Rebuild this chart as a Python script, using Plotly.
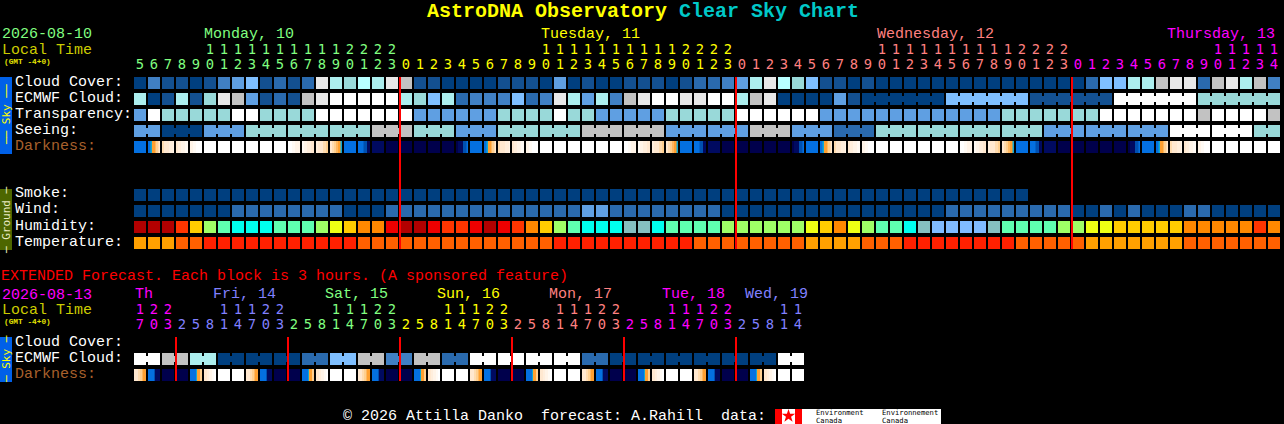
import plotly.graph_objects as go

# ---------- data ----------
hours_main = [5,6,7,8,9,10,11,12,13,14,15,16,17,18,19,20,21,22,23,
              0,1,2,3,4,5,6,7,8,9,10,11,12,13,14,15,16,17,18,19,20,21,22,23,
              0,1,2,3,4,5,6,7,8,9,10,11,12,13,14,15,16,17,18,19,20,21,22,23,
              0,1,2,3,4,5,6,7,8,9,10,11,12,13,14]
hours_ext = [17,20,23,
             2,5,8,11,14,17,20,23, 2,5,8,11,14,17,20,23, 2,5,8,11,14,17,20,23,
             2,5,8,11,14,17,20,23, 2,5,8,11,14,17,20,23, 2,5,8,11,14]
midnights_main = [19, 43, 67]
midnights_ext = [3, 11, 19, 27, 35, 43]

cloud_cover = ("0311013451" "212a7687a9" "1100001110" "4010011101" "22347a8651"
               "1010000000" "0000000025" "5779aa29a7" "93")
ecmwf_cloud = ("701716a941" "219abbbbb7" "6572333523" "a74739abba" "abb79a0000"
               "4100000055" "5555111111" "bbbbbb6666" "66")
ecmwf_merged = [(52, 57), (58, 63), (64, 69), (70, 75), (76, 81)]
transparency = ("4b66666bb6" "666bbbbbbb" "4444446666" "b664444466" "666bbbbbb4"
                "4444444444" "446666666b" "bbbbbb9bbb" "b9")
seeing_groups = [(0,1,"4"),(2,4,"0"),(5,7,"4"),(8,10,"6"),(11,13,"6"),(14,16,"6"),(17,19,"9"),
                 (20,22,"6"),(23,25,"4"),(26,28,"6"),(29,31,"6"),(32,34,"9"),(35,37,"9"),
                 (38,40,"4"),(41,43,"4"),(44,46,"9"),(47,49,"4"),(50,52,"2"),(53,55,"6"),
                 (56,58,"6"),(59,61,"6"),(62,64,"6"),(65,67,"4"),(68,70,"4"),(71,73,"4"),
                 (74,76,"b"),(77,79,"b"),(80,81,"6")]
smoke = ("0000000000" "0000000000" "0000000000" "0000000000" "0000000000" "0000000000" "0000")
wind = ("0000000222" "2222200022" "2222222222" "2244222222" "2200000000"
        "0000000022" "2222222002" "0200022000" "00")
humidity = ("rrrtvxyzzz" "yyyxwvuusr" "rsttsrstuv" "xyzzzggzyy" "yyxxxxxxwv"
            "uwxyyzglll" "lgyyyyxxww" "vvvvvuuuuu" "tu")
temperature = ("AAAOORRRRR" "RRRRRROOOO" "OOOOOOOOOO" "RRRRRRRRRR" "OOOOOOOOAA"
               "AAOOORRRRR" "RRROOOOOAA" "AAAAAOOOOO" "OO")
ext_ecmwf_groups = ["b","9","7","0","0","0","2","5","9","3","9","2",
                    "b","b","b","b","2","0","0","0","0","0","0","b"]

darkness_blocks = [
 "BL","DW","P1","P2","P3","WH","WH","WH","WH","WH","WH","E1","E2","E3","DK","BL","FD","N1","NV","NV","NV","NV","NV","UP",
 "BL","DW","P1","P2","P3","WH","WH","WH","WH","WH","WH","E1","E2","E3","DK","BL","FD","N1","NV","NV","NV","NV","NV","UP",
 "BL","DW","P1","P2","P3","WH","WH","WH","WH","WH","WH","E1","E2","E3","DK","BL","FD","N1","NV","NV","NV","NV","NV","UP",
 "BL","DW","P1","P2","P3","WH","WH","WH","WH","WH"]
ext_darkness_blocks = [
 "XD","BN","NV","NV","BO","PW","WH","WH", "XD","BN","NV","NV","BO","PW","WH","WH",
 "XD","BN","NV","NV","BO","PW","WH","WH", "XD","BN","NV","NV","BO","PW","WH","WH",
 "XD","BN","NV","NV","BO","PW","WH","WH", "XD","BN","NV","NV","BO","PW","WH","WH"]
darkness_ramps = {
 "BL":[3,3,3,3,3,3,3,3,3,3,3,3],
 "DW":[3,3,3.5,4,5,5,5,5.5,6,6,6.5,7],
 "P1":[6.5,6.5,7,7,7,7,7,7.5,7.5,7.5,7.5,8],
 "P2":[7,7,7.5,7.5,7.5,8,8,8,8,8.5,8.5,8.5],
 "P3":[8,8,8,8.5,8.5,8.5,9,9,9,9,9,9],
 "WH":[9,9,9,9,9,9,9,9,9,9,9,9],
 "E1":[9,9,9,9,8.5,8.5,8.5,8,8,8,8,8],
 "E2":[8.5,8.5,8,8,8,7.5,7.5,7.5,7.5,7,7,7],
 "E3":[7.5,7.5,7,7,7,7,7,6.5,6.5,6.5,6,6],
 "DK":[7,7,6.5,6.5,6,6,5.5,5.5,5,5,4.5,4],
 "FD":[3,3,3,3,3,2.5,2,2,2,1,1,1],
 "N1":[1,1,1,1,1,1,1,1,1,1,1,1],
 "NV":[0,0,0,0,0,0,0,0,0,0,0,0],
 "UP":[0,0,1,1,1,1,1,2,2,2,2.5,3],
 "XD":[7,7,7,7,6.5,6.5,6,6,5.5,5,5,5],
 "BN":[3,3,3,3,3,3,2,1,1,1,1,1],
 "BO":[3,3,3,3,3,3,4,5,5,5,6,6],
 "PW":[7,7,7,7.5,7.5,8,8,8,8.5,8.5,9,9],
}

day_colors_main = [("#80ff80",19),("#ffff00",24),("#ff8080",24),("#ff00ff",15)]
day_colors_ext = [("#ff00ff",3),("#8080ff",8),("#80ff80",8),("#ffff00",8),("#ff8080",8),("#ff00ff",8),("#8080ff",5)]

day_titles_main = [("Monday, 10",204,"#80ff80"),("Tuesday, 11",541,"#ffff00"),
                   ("Wednesday, 12",877,"#ff8080"),("Thursday, 13",1167,"#ff00ff")]
day_titles_ext = [("Th",135,"#ff00ff"),("Fri, 14",213,"#8080ff"),("Sat, 15",325,"#80ff80"),
                  ("Sun, 16",437,"#ffff00"),("Mon, 17",549,"#ff8080"),("Tue, 18",662,"#ff00ff"),
                  ("Wed, 19",745,"#8080ff")]
row_labels = [("Cloud Cover:",82,"#ffffff"),("ECMWF Cloud:",98,"#ffffff"),("Transparency:",114,"#ffffff"),
              ("Seeing:",130,"#ffffff"),("Darkness:",146,"#a8602c"),
              ("Smoke:",194,"#ffffff"),("Wind:",210,"#ffffff"),("Humidity:",226,"#ffffff"),
              ("Temperature:",242,"#ffffff"),
              ("Cloud Cover:",342,"#ffffff"),("ECMWF Cloud:",358,"#ffffff"),("Darkness:",374,"#a8602c")]

palette = {"0":"#003f7f","1":"#135091","2":"#2a6aae","3":"#4080c4","4":"#5f9fe2","5":"#7fbfff",
           "6":"#99d9d9","7":"#aceeee","8":"#b8ffff","9":"#c2c2c2","a":"#e8e8e8","b":"#ffffff",
           "r":"#b20000","s":"#ee0000","t":"#ff3500","u":"#ff8800","v":"#ffcc00","w":"#eeff14",
           "x":"#9fff66","y":"#5fffb0","z":"#00ffee","g":"#85c0c0","l":"#80bbff",
           "A":"#ffa000","O":"#ff6000","R":"#ff2000"}
darkness_colors = ["#00004c","#000a60","#0050b0","#0470e0","#10a8d0","#ffa030","#ffd090","#ffe8d0","#fff4e8","#ffffff"]

FONT = "Liberation Mono"
DIGIT_FONT = "DejaVu Sans Mono"
N = 82

# ---------- helpers ----------
def X(px):
    return (px - 140) / 14

codes = list(palette)
scale = [[k / (len(codes) - 1), palette[c]] for k, c in enumerate(codes)]
dscale = [[k / 9, c] for k, c in enumerate(darkness_colors)]

def row_z(s):
    return [codes.index(c) for c in s] + [None] * (N - len(s))

def expand_colors(spec):
    out = []
    for c, n in spec:
        out += [c] * n
    return out

seeing = "".join(lv * (b - a + 1) for a, b, lv in seeing_groups)
ext_ecmwf = "".join(lv * 2 for lv in ext_ecmwf_groups)

fig = go.Figure()

# blocks
rows_main = [(83, cloud_cover), (99, ecmwf_cloud), (115, transparency), (131, seeing),
             (147, None), (163, None), (179, None),
             (195, smoke), (211, wind), (227, humidity), (243, temperature)]
fig.add_trace(go.Heatmap(
    x0=0, dx=1, y=[r[0] for r in rows_main],
    z=[row_z(r[1]) if r[1] else [None] * N for r in rows_main],
    colorscale=scale, zmin=0, zmax=len(codes) - 1, showscale=False,
    xgap=2, ygap=4, hoverinfo="skip"))
fig.add_trace(go.Heatmap(
    x0=0, dx=1, y0=359, dy=16, z=[row_z(ext_ecmwf)],
    colorscale=scale, zmin=0, zmax=len(codes) - 1, showscale=False,
    xgap=2, ygap=4, hoverinfo="skip"))

# darkness strips (one column per pixel)
def dark_row(names):
    z = []
    for n in names:
        z += darkness_ramps[n] + [None, None]
    return [z]

for names, yc in ((darkness_blocks, 147), (ext_darkness_blocks, 375)):
    fig.add_trace(go.Heatmap(
        x0=X(134.5), dx=1 / 14, y0=yc, dy=12, z=dark_row(names),
        colorscale=dscale, zmin=0, zmax=9, showscale=False, hoverinfo="skip"))

# connectors between merged blocks
def connector(a, b, y, level):
    fig.add_trace(go.Scatter(x=[a, b], y=[y, y], mode="lines", hoverinfo="skip",
                             line=dict(color=palette[level], width=6)))

for a, b, lv in seeing_groups:
    connector(a, b, 131, lv)
for a, b in ecmwf_merged:
    connector(a, b, 99, ecmwf_cloud[a])
for k, lv in enumerate(ext_ecmwf_groups):
    connector(2 * k, 2 * k + 1, 359, lv)

# midnight lines
def midnight(blocks, y0, y1):
    xs, ys = [], []
    for b in blocks:
        xs += [b - 3 / 7, b - 3 / 7, None]
        ys += [y0, y1, None]
    fig.add_trace(go.Scatter(x=xs, y=ys, mode="lines", hoverinfo="skip",
                             line=dict(color="#ff0000", width=2)))

midnight(midnights_main, 77, 249)
midnight(midnights_ext, 337, 381)

# hour labels
def hour_rows(hours, spec, y_tens, y_ones):
    colors = expand_colors(spec)
    idx = list(range(len(hours)))
    fig.add_trace(go.Scatter(x=idx, y=[y_ones] * len(hours), mode="text",
                             text=[str(h % 10) for h in hours], textposition="middle center",
                             textfont=dict(family=DIGIT_FONT, size=13.8, color=colors), hoverinfo="skip"))
    fig.add_trace(go.Scatter(x=idx, y=[y_tens] * len(hours), mode="text",
                             text=[str(h // 10) if h >= 10 else "" for h in hours], textposition="middle center",
                             textfont=dict(family=DIGIT_FONT, size=13.8, color=colors), hoverinfo="skip"))

hour_rows(hours_main, day_colors_main, 50.5, 65.5)
hour_rows(hours_ext, day_colors_ext, 310.5, 325.5)

# text
ann = []
def T(s, px, py, color, size=15, bold=False, angle=0, xanchor="left", family=FONT):
    ann.append(dict(text=("<b>%s</b>" % s) if bold else s, x=px / 1284, y=1 - py / 424,
                    xref="paper", yref="paper", xanchor=xanchor, yanchor="middle",
                    showarrow=False, textangle=angle, borderpad=0,
                    font=dict(family=family, size=size, color=color)))

T("AstroDNA Observatory", 426, 12, "#ffff00", size=20, bold=True)
T("Clear Sky Chart", 678, 12, "#00c8c8", size=20, bold=True)
T("2026-08-10", 1, 35, "#80ff80")
T("Local Time", 1, 50, "#cccc00")
T("(GMT -4+0)", 3, 62, "#e0e000", size=7.8, bold=True)
for s, px, c in day_titles_main:
    T(s, px - 1, 35, c)
T("EXTENDED Forecast. Each block is 3 hours. (A sponsored feature)", 0, 276, "#ff0000")
T("2026-08-13", 1, 295, "#ff00ff")
T("Local Time", 1, 310, "#cccc00")
T("(GMT -4+0)", 3, 322, "#e0e000", size=7.8, bold=True)
for s, px, c in day_titles_ext:
    T(s, px - 1, 294.5, c)
for s, py, c in row_labels:
    T(s, 13.5, py, c)
T("\u00a9 2026 Attilla Danko\u00a0\u00a0forecast: A.Rahill\u00a0\u00a0data:", 342, 416, "#ffffff")
T("\u2500\u2500 Sky \u2500\u2500", 6, 115, "#ffff00", size=11, angle=-90, xanchor="center", family="DejaVu Sans Mono")
T("\u2500 Ground \u2500", 6, 220, "#e8e8c0", size=11, angle=-90, xanchor="center", family="DejaVu Sans Mono")
T("\u2500 Sky \u2500", 6, 359, "#ffff00", size=11, angle=-90, xanchor="center", family="DejaVu Sans Mono")
for s, px, py in (("Environment", 815, 412.5), ("Canada", 815, 420.5), ("Environnement", 881, 412.5), ("Canada", 881, 420.5)):
    T(s, px, py, "#000000", size=7.2, family="DejaVu Sans Mono")

# side tabs and logo
def rect(x0, y0, x1, y1, color):
    return dict(type="rect", xref="x", yref="y", x0=X(x0), x1=X(x1), y0=y0, y1=y1,
                fillcolor=color, line_width=0, layer="below")

shapes = [rect(0, 77, 12, 154, "#0060e8"), rect(0, 189, 12, 250, "#4d6600"), rect(0, 337, 12, 382, "#0060e8"),
          rect(775, 409, 941, 424, "#ffffff"), rect(775, 409, 782, 424, "#ff0000"), rect(795, 409, 802, 424, "#ff0000")]
fig.add_trace(go.Scatter(x=[X(788.5)], y=[416], mode="markers", hoverinfo="skip",
                         marker=dict(symbol="star", size=10, color="#ff0000", line_width=0)))

fig.update_layout(
    width=1284, height=424, margin=dict(l=0, r=0, t=0, b=0, pad=0), autosize=False,
    paper_bgcolor="#000000", plot_bgcolor="#000000", showlegend=False,
    xaxis=dict(visible=False, range=[X(0), X(1284)], fixedrange=True),
    yaxis=dict(visible=False, range=[424, 0], fixedrange=True),
    annotations=ann, shapes=shapes)

for s in (cloud_cover, ecmwf_cloud, transparency, seeing, wind, humidity, temperature):
    assert len(s) == N, s

fig.write_html("out.html", config={"displayModeBar": False},
               post_script="document.body.style.margin='0';document.body.style.background='#000';")
